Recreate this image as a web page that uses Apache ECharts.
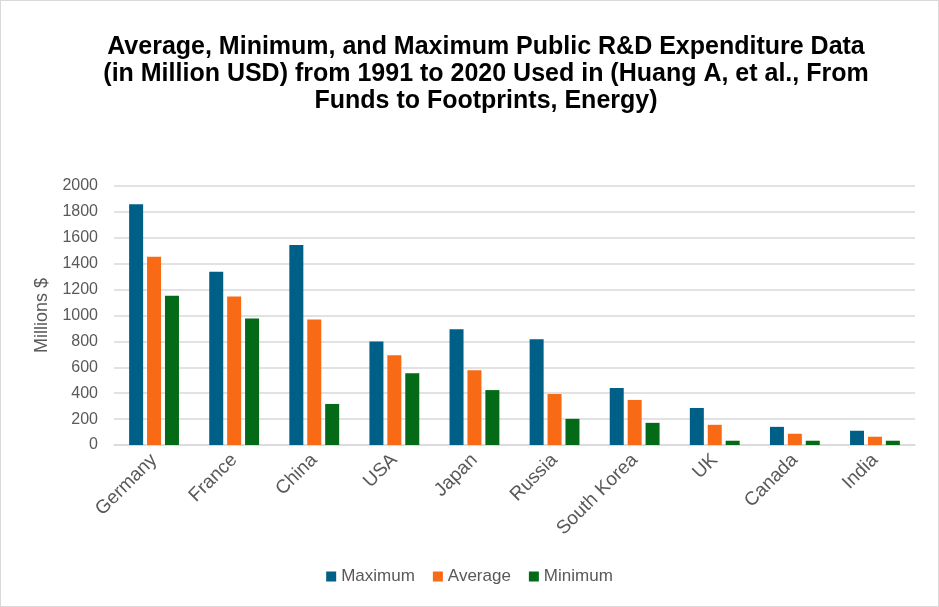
<!DOCTYPE html>
<html>
<head>
<meta charset="utf-8">
<script src="https://cdn.jsdelivr.net/npm/echarts@6/dist/echarts.min.js"></script>
<style>
html,body{margin:0;padding:0;background:#fff;}
#chart{width:939px;height:607px;box-sizing:border-box;border:1px solid #d9d9d9;}
</style>
</head>
<body>
<div id="chart"></div>
<script>
const categories = ["Germany","France","China","USA","Japan","Russia","South Korea","UK","Canada","India"];
const maximum = [1860,1338,1545,800,893,816,440,286,140,110];
const average = [1453,1146,969,693,578,394,348,156,87,64];
const minimum = [1153,977,317,555,424,202,171,33,33,33];
const yTicks = {min:0,max:2000,interval:200};

const chart = echarts.init(document.getElementById('chart'));
const gray = '#595959';
chart.setOption({
  animation:false,
  title:{
    text:'Average, Minimum, and Maximum Public R&D Expenditure Data\n(in Million USD) from 1991 to 2020 Used in (Huang A, et al., From\nFunds to Footprints, Energy)',
    left:480, textAlign:'center', top:28,
    textStyle:{fontFamily:'Liberation Sans',fontWeight:'bold',fontSize:25,color:'#000',lineHeight:27}
  },
  legend:{
    bottom:16, left:'center',
    itemWidth:10,itemHeight:10,itemGap:18,
    icon:'rect',
    textStyle:{fontFamily:'Liberation Sans',fontSize:17,color:gray},
    data:['Maximum','Average','Minimum']
  },
  grid:{left:113,right:23,top:185,bottom:161,containLabel:false},
  xAxis:{
    type:'category',data:categories,
    axisLine:{lineStyle:{color:'#d9d9d9',width:1.5}},
    axisTick:{show:false},
    axisLabel:{rotate:45,fontFamily:'Liberation Sans',fontSize:19,color:gray,margin:12,interval:0}
  },
  yAxis:{
    type:'value',min:yTicks.min,max:yTicks.max,interval:yTicks.interval,
    name:'Millions $',nameLocation:'middle',nameGap:63,nameRotate:90,
    nameTextStyle:{fontFamily:'Liberation Sans',fontSize:18,color:gray},
    axisLine:{show:false},axisTick:{show:false},
    axisLabel:{fontFamily:'Liberation Sans',fontSize:16,color:gray,margin:16,formatter:function(v){return String(v);}},
    splitLine:{lineStyle:{color:'#d9d9d9',width:1.5}}
  },
  series:[
    {name:'Maximum',type:'bar',data:maximum,barWidth:14,barGap:'28%',itemStyle:{color:'#005F86'}},
    {name:'Average',type:'bar',data:average,barWidth:14,barGap:'28%',itemStyle:{color:'#F96A15'}},
    {name:'Minimum',type:'bar',data:minimum,barWidth:14,barGap:'28%',itemStyle:{color:'#036B17'}}
  ]
});
</script>
</body>
</html>
